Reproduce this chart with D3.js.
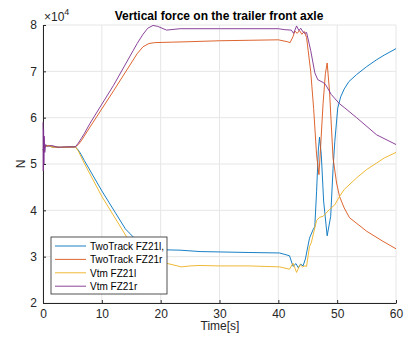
<!DOCTYPE html>
<html>
<head>
<meta charset="utf-8">
<script src="https://cdn.jsdelivr.net/npm/d3@7"></script>
<style>
  body { margin: 0; background: #fff; }
  svg { font-family: "Liberation Sans", Arial, sans-serif; }
</style>
</head>
<body>
<div id="chart"></div>
<script>
// values in N, time in s
const labels = ["TwoTrack FZ21l,", "TwoTrack FZ21r", "Vtm FZ21l", "Vtm FZ21r"];
const colors = ["#0072BD", "#D95319", "#EDB120", "#7E2F8E"];
const xTicks = [0, 10, 20, 30, 40, 50, 60];
const yTicks = [20000, 30000, 40000, 50000, 60000, 70000, 80000];

const tBlue = [0, 0.3, 1, 1.5, 3, 5.5, 6, 6.5, 7, 10, 14, 15.3, 16, 16.5, 17.5, 20, 23.3, 26.7, 35, 40.2, 41.9, 42.5, 43, 43.4, 43.8, 44.2, 44.6, 45.3, 45.9, 46.2, 46.5, 46.8, 47, 47.3, 47.7, 48.3, 48.9, 49.3, 49.6, 50.1, 50.6, 51.2, 52, 53.3, 55, 56.7, 58, 60];
const vBlue = [53000, 53800, 54000, 53700, 53600, 53700, 53000, 52000, 50800, 44200, 36000, 34300, 32800, 32000, 31600, 31500, 31400, 31100, 30900, 30800, 30200, 27900, 28500, 27600, 28400, 28000, 29500, 34000, 35800, 36500, 44000, 53000, 55800, 52000, 42000, 34500, 38700, 49000, 54900, 62100, 64500, 66200, 67800, 69300, 71000, 72500, 73500, 74900];

const tOrange = [0, 0.3, 1, 1.5, 3, 5.5, 6, 6.5, 7, 8, 12, 16, 17, 18, 19, 22, 25, 30, 35, 40, 41.5, 42, 42.5, 42.8, 43.2, 43.6, 44, 44.4, 44.8, 45.5, 46, 46.5, 46.9, 47.2, 47.6, 48, 48.3, 48.7, 49.3, 49.9, 50.4, 51.2, 52.1, 55, 57.8, 60];
const vOrange = [53000, 53800, 54000, 53700, 53600, 53700, 54200, 55000, 56000, 58000, 65800, 73800, 75300, 76000, 76200, 76300, 76400, 76600, 76700, 76800, 76400, 76200, 77500, 78700, 78200, 78800, 78000, 78600, 77300, 70000, 62000, 52000, 47700, 54000, 63000, 69500, 71800, 65700, 51300, 45900, 43000, 40500, 38400, 35500, 33300, 31700];

const tYellow = [0, 0.3, 1, 1.5, 3, 5.5, 6, 6.5, 7, 10, 14.2, 15, 15.7, 16.5, 18, 20.9, 23.5, 25, 26.7, 30, 35, 40.2, 41.9, 42.5, 43.1, 43.7, 44.1, 44.5, 44.8, 45.3, 45.6, 46.5, 47, 47.6, 48.7, 49.6, 50.4, 51.2, 53.3, 55, 56.7, 58, 60];
const vYellow = [53000, 53800, 54000, 53700, 53600, 53700, 52800, 51500, 50200, 43000, 34300, 32500, 30500, 29300, 28800, 28600, 27800, 28000, 28100, 28000, 28000, 27800, 27300, 28600, 26600, 28300, 27800, 28000, 27900, 32200, 33000, 37800, 38500, 38700, 40200, 41200, 43000, 44500, 47000, 48800, 50200, 51300, 52500];

const tPurple = [0, 0.05, 0.1, 0.15, 0.2, 0.3, 0.45, 0.8, 1.5, 2.5, 4, 5.5, 6, 6.5, 7, 8, 12, 16, 17, 17.8, 18.7, 19.5, 21, 23.3, 30, 40, 41, 42.2, 42.6, 43.1, 43.5, 43.8, 44.2, 44.5, 44.8, 45.5, 46.2, 46.7, 47.6, 48, 49, 50.4, 51.2, 53.3, 56.7, 60];
const vPurple = [59000, 48500, 57500, 50000, 56000, 52500, 54200, 53800, 54000, 53600, 53700, 53700, 54500, 55500, 56500, 58800, 67000, 76000, 78000, 79300, 79900, 79700, 78900, 79200, 79200, 79200, 79000, 78900, 78200, 79800, 78800, 79300, 78500, 78200, 78400, 74500, 69700, 68200, 67600, 67200, 65000, 63000, 62200, 60000, 56300, 54200];

const series = [
  { t: tBlue, v: vBlue },
  { t: tOrange, v: vOrange },
  { t: tYellow, v: vYellow },
  { t: tPurple, v: vPurple }
];

const W = 405, H = 338;
const m = { left: 43, right: 9, top: 25, bottom: 35 };

const svg = d3.select("#chart").append("svg")
  .attr("width", W).attr("height", H);

const x = d3.scaleLinear().domain([0, 60]).range([m.left, W - m.right]);
const y = d3.scaleLinear().domain([20000, 80000]).range([H - m.bottom, m.top]);

// grid
svg.append("g").selectAll("line").data(xTicks).join("line")
  .attr("x1", d => x(d)).attr("x2", d => x(d))
  .attr("y1", y(20000)).attr("y2", y(80000))
  .attr("stroke", "#e6e6e6").attr("stroke-width", 1);
svg.append("g").selectAll("line").data(yTicks).join("line")
  .attr("x1", x(0)).attr("x2", x(60))
  .attr("y1", d => y(d)).attr("y2", d => y(d))
  .attr("stroke", "#e6e6e6").attr("stroke-width", 1);

// axes
const xAxis = svg.append("g")
  .attr("transform", `translate(0,${y(20000)})`)
  .call(d3.axisBottom(x).tickValues(xTicks).tickSizeInner(-3).tickSizeOuter(0).tickPadding(6));
const yAxis = svg.append("g")
  .attr("transform", `translate(${x(0)},0)`)
  .call(d3.axisLeft(y).tickValues(yTicks).tickFormat(d => d / 10000).tickSizeInner(-3).tickSizeOuter(0).tickPadding(6));
[xAxis, yAxis].forEach(a => {
  a.select(".domain").attr("stroke", "#262626");
  a.selectAll(".tick line").attr("stroke", "#262626");
  a.selectAll(".tick text").attr("fill", "#262626").style("font-size", "12px");
});

// lines
const line = d3.line().x(d => x(d[0])).y(d => y(d[1]));
series.forEach((s, i) => {
  svg.append("path")
    .datum(s.t.map((t, j) => [t, s.v[j]]))
    .attr("d", line)
    .attr("fill", "none")
    .attr("stroke", colors[i])
    .attr("stroke-width", 0.9)
    .attr("stroke-linejoin", "round");
});

// exponent label
const ex = svg.append("text").attr("x", 44).attr("y", 21)
  .attr("fill", "#262626").style("font-size", "12px");
ex.append("tspan").text("\u00d710");
ex.append("tspan").attr("dy", -6).style("font-size", "9px").text("4");

// title and axis labels
svg.append("text").attr("x", 219).attr("y", 20)
  .attr("text-anchor", "middle").attr("font-weight", "bold")
  .attr("fill", "#000").style("font-size", "12px")
  .text("Vertical force on the trailer front axle");
svg.append("text").attr("x", 220).attr("y", 330)
  .attr("text-anchor", "middle").attr("fill", "#262626").style("font-size", "12px")
  .text("Time[s]");
svg.append("text").attr("transform", "translate(25,164) rotate(-90)")
  .attr("text-anchor", "middle").attr("fill", "#262626").style("font-size", "12px")
  .text("N");

// legend
const lg = svg.append("g").attr("transform", "translate(51,237)");
lg.append("rect").attr("width", 116).attr("height", 57)
  .attr("fill", "#fff").attr("stroke", "#262626").attr("stroke-width", 0.8);
labels.forEach((lab, i) => {
  const yy = 9 + i * 13.4;
  lg.append("line").attr("x1", 4).attr("x2", 35).attr("y1", yy).attr("y2", yy)
    .attr("stroke", colors[i]).attr("stroke-width", 0.9);
  lg.append("text").attr("x", 39).attr("y", yy + 4)
    .attr("fill", "#000").style("font-size", "10px").text(lab);
});
</script>
</body>
</html>
